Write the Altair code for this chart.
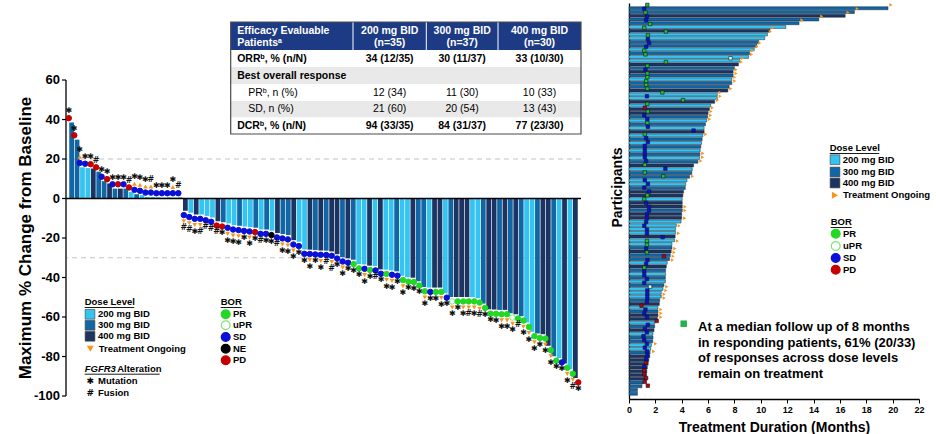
import altair as alt
import numpy as np
import pandas as pd

FONT = "Liberation Sans"
SYM_FONT = "DejaVu Sans"

# ---------------- Waterfall: best % change from baseline per patient ----------------
change = [
    38.5, 29.8, 15.8, 15.4, 15.2, 13.6, 8.8, 7.6, 5.0, 5.0, 5.0, 3.4, 2.2, 1.7, 0.8, 0.8, 0.5, 0.5, 0.5, 0.5, 0.5,
    -6.2, -7.2, -8.1, -8.1, -8.8, -9.6, -11.5, -12.0, -12.6, -13.5,
    -13.8, -14.2, -14.5, -14.8, -15.7, -15.7, -16.3, -17.5, -18.0, -18.5,
    -21.1, -21.9, -25.8, -25.9, -26.1, -26.3, -26.4, -26.8, -28.2, -29.7,
    -30.3, -31.0, -33.2, -33.4, -34.0, -34.2, -35.9, -36.0, -36.4, -36.9,
    -39.1, -39.9, -40.1, -41.9, -44.8, -45.1, -45.1, -45.1, -48.0, -49.9,
    -49.9, -49.9, -49.9, -49.9, -50.5, -53.2, -56.1, -56.2, -56.4, -56.4,
    -58.1, -58.6, -59.6, -62.8, -67.5, -68.4, -68.7, -74.6, -79.9, -80.8,
    -83.5, -86.5, -90.9,
]
dose = [
    300, 300, 200, 200, 400, 300, 300, 400, 300, 400, 300, 200, 300, 200, 200, 200, 300, 200, 300, 200, 300,
    400, 200, 400, 200, 200, 200, 400, 300, 200, 200,
    300, 200, 200, 300, 200, 300, 200, 400, 300, 300,
    400, 200, 200, 400, 300, 400, 300, 400, 400, 300,
    400, 300, 200, 200, 400, 200, 400, 200, 200, 300,
    200, 200, 400, 300, 300, 200, 400,
    400, 200, 300, 400, 400, 400, 200, 200, 300, 400, 400, 300, 400,
    300, 400, 300, 200, 200, 300, 400, 400, 300, 200, 400, 200, 400,
]
bor = [
    "PD", "PD", "SD", "SD", "PD", "PD", "SD", "PD", "SD", "PD", "SD", "PD", "SD", "SD", "SD", "SD", "SD", "SD", "SD", "SD", "SD",
    "SD", "SD", "SD", "SD", "SD", "SD", "PD", "PD", "SD", "SD",
    "SD", "SD", "SD", "PD", "SD", "SD", "NE", "SD", "SD", "SD",
    "SD", "SD", "SD", "SD", "SD", "SD", "SD", "SD", "SD", "SD",
    "SD", "PR", "PR", "SD", "PR", "SD", "SD", "PR", "SD", "SD",
    "PR", "PR", "PR", "PR", "PR", "SD", "PR", "PR", "SD", "uPR",
    "PR", "PR", "PR", "PR", "PR", "PR", "PR", "PR", "PR", "PR",
    "uPR", "PR", "PR", "PR", "PR", "PR", "PR", "PR", "PR", "SD",
    "PR", "PR", "PD",
]
ongoing = [
    0, 0, 1, 0, 0, 0, 0, 0, 0, 0, 0, 0, 1, 1, 1, 1, 0, 0, 0, 1, 0,
    1, 1, 1, 1, 0, 0, 0, 0, 1, 1,
    1, 0, 1, 0, 0, 0, 0, 0, 1, 1,
    1, 0, 0, 1, 0, 1, 0, 1, 0, 1,
    0, 0, 0, 1, 0, 0, 0, 1, 1, 0,
    1, 0, 0, 0, 1, 0, 0, 1, 0, 1,
    0, 1, 1, 1, 1, 0, 0, 0, 1, 1,
    1, 0, 1, 1, 1, 0, 1, 1, 0, 0,
    1, 1, 0,
]
alteration = [
    "M", "M", "M", "M", "M", "F", "M", "M", "M", "M", "M", "F", "M", "M", "M", "F", "M", "M", "M", "M", "F",
    "F", "F", "M", "F", "F", "F", "F", "M", "M", "M",
    "M", "M", "M", "M", "F", "M", "M", "F", "M", "M",
    "M", "M", "M", "M", "M", "M", "F", "F", "M", "M",
    "M", "M", "M", "M", "M", "F", "M", "M", "M", "M",
    "M", "M", "M", "M", "M", "M", "M", "M", "M", "M",
    "M", "M", "F", "M", "F", "M", "M", "M", "M", "M",
    "M", "F", "M", "M", "M", "M", "M", "M", "M", "M",
    "M", "F", "M",
]
y_ticks = [60, 40, 20, 0, -20, -40, -60, -80, -100]
ref_lines = [20, -30]

# ---------------- Swimmer: treatment duration (months) per participant ----------------
sw_duration = [
    19.65, 17.1, 16.4, 14.4, 12.9, 11.9, 10.7, 10.5, 10.3, 9.85, 9.7, 9.5, 9.15, 9.07, 8.4, 8.3, 8.0, 7.9, 7.9, 7.8,
    7.8, 7.6, 7.5, 6.7, 6.7, 6.5, 6.2, 6.1, 6.0, 5.96, 5.9, 5.8, 5.7, 5.7, 5.6, 5.55, 5.5, 5.45, 5.4, 5.38,
    5.36, 5.23, 4.9, 4.8, 4.77, 4.6, 4.4, 4.3, 4.27, 4.14, 4.09, 4.04, 4.04, 4.04, 4.04, 4.0, 4.0, 3.95, 3.59, 3.54,
    3.54, 3.5, 3.46, 3.26, 3.26, 3.2, 3.13, 3.08, 2.9, 2.83, 2.78, 2.78, 2.76, 2.76, 2.65, 2.58, 2.45, 2.45, 2.33, 2.3,
    2.2, 2.2, 2.2, 2.15, 1.95, 1.95, 1.9, 1.82, 1.82, 1.8, 1.7, 1.65, 1.6, 1.57, 1.5, 1.45, 1.39, 1.35, 1.32, 1.3,
    1.06, 0.98, 0.64, 0.64,
]
sw_dose = [
    300, 300, 400, 300, 300, 200, 400, 200, 200, 300, 300, 200, 300, 200, 200, 400, 300, 400, 300, 200,
    300, 300, 400, 200, 200, 400, 200, 400, 400, 300, 200, 300, 200, 400, 200, 300, 200, 300, 200, 300,
    200, 300, 400, 200, 300, 300, 200, 200, 300, 400, 400, 200, 400, 400, 300, 400, 400, 200, 200, 200,
    200, 400, 200, 200, 300, 400, 300, 300, 200, 400, 300, 200, 300, 200, 300, 200, 200, 200, 300, 400,
    200, 300, 400, 400, 200, 300, 400, 200, 300, 300, 200, 200, 300, 400, 400, 400, 400, 400, 400, 400,
    300, 300, 300, 300,
]
sw_ongoing = [
    1, 1, 1, 1, 1, 0, 1, 1, 0, 0, 1, 1, 1, 1, 1, 1, 0, 1, 1, 1,
    1, 0, 1, 1, 1, 1, 0, 1, 1, 1, 1, 0, 0, 0, 1, 0, 0, 0, 0, 1,
    1, 1, 0, 0, 0, 1, 0, 0, 0, 0, 0, 0, 0, 1, 1, 0, 1, 0, 1, 0,
    1, 0, 1, 0, 1, 1, 1, 1, 0, 0, 0, 0, 0, 0, 1, 1, 1, 1, 0, 0,
    1, 1, 1, 0, 0, 0, 0, 0, 0, 1, 0, 1, 0, 0, 0, 0, 0, 0, 0, 0,
    0, 0, 0, 0,
]
sw_bor = [
    "PR", "SD", "PR", "SD", "SD", "PR", "PR", "PR", "PR", "SD", "SD", "SD", "PR", "PR", "uPR", "PR", "PR", "SD", "PR", "PR",
    "PR", "PR", "PR", "PR", "SD", "PR", "PR", "PD", "PR", "SD", "SD", "PR", "SD", "SD", "PR", "SD", "SD", "SD", "SD", "SD",
    "SD", "SD", "PR", "SD", "PR", "PR", "SD", "SD", "SD", "SD", "PR", "PR", "SD", "SD", "SD", "SD", "SD", "SD", "SD", "SD",
    "SD", "SD", "PR", "PR", "SD", "PR", "PD", "SD", "SD", "PR", "SD", "SD", "SD", "SD", "uPR", "SD", "SD", "SD", "SD", "PD",
    "SD", "SD", "SD", "PD", "SD", "SD", "SD", "SD", "SD", "SD", "SD", "SD", "SD", "SD", "PD", "SD", "PD", "PD", "PD", "PD",
    "PD", "", "", "",
]
sw_bor_time = [
    1.39, 1.16, 1.25, 1.36, 1.3, 1.6, 1.16, 2.8, 1.43, 1.43, 1.52, 1.3, 1.16, 1.25, 7.7, 2.8, 1.39, 1.25, 1.39, 1.39,
    1.3, 1.3, 1.39, 2.53, 1.36, 4.1, 1.39, 1.2, 1.43, 1.16, 1.39, 1.39, 1.43, 4.9, 1.2, 1.3, 1.43, 1.2, 1.2, 1.2,
    1.2, 1.3, 1.2, 2.76, 1.2, 2.6, 1.2, 1.43, 1.16, 1.52, 1.39, 1.16, 1.3, 1.52, 1.52, 1.36, 1.36, 1.3, 1.16, 1.36,
    1.36, 2.55, 1.36, 1.36, 1.3, 1.36, 2.65, 1.4, 1.3, 1.16, 1.16, 1.16, 1.36, 1.16, 1.6, 1.39, 1.39, 1.39, 1.36, 0.95,
    1.25, 1.16, 1.36, 2.1, 1.43, 1.2, 1.36, 1.1, 1.16, 1.36, 1.2, 1.36, 1.39, 1.3, 1.3, 1.16, 1.16, 1.16, 1.3, 1.2,
    1.43, 0, 0, 0,
]
x_ticks_sw = list(range(0, 23, 2))

# ---------------- Response table ----------------
table_header = ["Efficacy Evaluable\nPatientsᵃ", "200 mg BID\n(n=35)", "300 mg BID\n(n=37)", "400 mg BID\n(n=30)"]
table_rows = ["ORRᵇ, % (n/N)", "Best overall response", "PRᵇ, n (%)", "SD, n (%)", "DCRᵇ, % (n/N)"]
table_200 = ["34 (12/35)", "", "12 (34)", "21 (60)", "94 (33/35)"]
table_300 = ["30 (11/37)", "", "11 (30)", "20 (54)", "84 (31/37)"]
table_400 = ["33 (10/30)", "", "10 (33)", "13 (43)", "77 (23/30)"]
row_bold = [True, True, False, False, True]
row_indent = [False, False, True, True, False]
row_shade = [False, True, False, True, False]

dose_labels = ["200 mg BID", "300 mg BID", "400 mg BID"]
bor_labels_wf = ["PR", "uPR", "SD", "NE", "PD"]
bor_labels_sw = ["PR", "uPR", "SD", "PD"]
note_lines = [
    "At a median follow up of 8 months",
    "in responding patients, 61% (20/33)",
    "of responses across dose levels",
    "remain on treatment",
]

DOSE_COLOR = {200: "#35C3F1", 300: "#1167A6", 400: "#1B3461"}
BOR_FILL = {"PR": "#22D822", "uPR": "#FFFFFF", "SD": "#0A10D6", "NE": "#000000", "PD": "#C40000"}
BOR_STROKE = {"PR": "#22D822", "uPR": "#7EE37E", "SD": "#0A10D6", "NE": "#000000", "PD": "#C40000"}
SW_FILL = {"PR": "#22C322", "uPR": "#D9FFD9", "SD": "#0A10D6", "PD": "#C40000"}
ORANGE = "#F7941D"
NAVY = "#1D3A85"

# ---------------- layout ----------------
LW, LH = 515, 393          # waterfall plot area
YTOP = 99.0                # y value at the top edge of the waterfall area
RW, RH = 290, 396          # swimmer plot area


def px_scales(w, h):
    sx = alt.Scale(domain=[0, w], range=[0, w], nice=False, zero=False)
    sy = alt.Scale(domain=[0, h], range=[0, h], nice=False, zero=False)
    return sx, sy


def text_layer(df, sx, sy, align="left", weight="bold", size=10, color="black", style="normal", font=FONT, **kw):
    return alt.Chart(df).mark_text(
        align=align, baseline="middle", fontWeight=weight, fontSize=size, color=color,
        fontStyle=style, font=font, **kw
    ).encode(
        x=alt.X("x:Q", scale=sx, axis=None),
        y=alt.Y("y:Q", scale=sy, axis=None),
        text="t:N",
    )


def underline(x0, x1, y, sx, sy):
    return alt.Chart(pd.DataFrame({"x": [x0], "x1": [x1], "y": [y]})).mark_rule(
        color="black", strokeWidth=0.9
    ).encode(x=alt.X("x:Q", scale=sx, axis=None), x2="x1:Q", y=alt.Y("y:Q", scale=sy, axis=None))


# ================= waterfall =================
n_bars = len(change)
wf = pd.DataFrame({
    "idx": range(n_bars), "change": change, "dose": dose, "bor": bor,
    "ongoing": ongoing, "alteration": alteration,
})
wf["sign"] = np.where(wf["change"] > 0, 1, -1)
wf["bar_color"] = wf["dose"].map(DOSE_COLOR)
wf["dot_fill"] = wf["bor"].map(BOR_FILL)
wf["dot_stroke"] = wf["bor"].map(BOR_STROKE)
wf["dot_y"] = wf["change"] + wf["sign"] * 2.2
wf["tri_y"] = wf["dot_y"] + wf["sign"] * 3.1
wf["sym_y"] = np.where(wf["ongoing"] == 1, wf["tri_y"], wf["dot_y"]) + wf["sign"] * 3.4
wf["tri_shape"] = np.where(wf["sign"] > 0, "triangle-up", "triangle-down")
wf["sym"] = wf["alteration"].map({"M": "✱", "F": "#"})

xs = alt.Scale(domain=list(range(n_bars)), paddingInner=0.12, paddingOuter=0.6)
ys = alt.Scale(domain=[-100, YTOP], nice=False, zero=False)
WX = alt.X("idx:O", scale=xs, axis=None)

# value axis: ticks, labels and title drawn on the data scale
tick_df = pd.DataFrame({"v": y_ticks, "t": [str(v) for v in y_ticks]})
y_tick_marks = alt.Chart(tick_df).mark_rule(color="black", strokeWidth=1.2).encode(
    x=alt.value(-4), x2=alt.value(0), y=alt.Y("v:Q", scale=ys, axis=None)
)
y_tick_labels = alt.Chart(tick_df).mark_text(
    align="right", baseline="middle", font=FONT, fontSize=13, fontWeight="bold", color="black"
).encode(x=alt.value(-6), y=alt.Y("v:Q", scale=ys, axis=None), text="t:N")
y_title = alt.Chart(pd.DataFrame({"v": [-20], "t": ["Maximum % Change from Baseline"]})).mark_text(
    angle=270, align="center", baseline="middle", font=FONT, fontSize=17, fontWeight="bold", color="black"
).encode(x=alt.value(-40), y=alt.Y("v:Q", scale=ys, axis=None), text="t:N")

grid = alt.Chart(pd.DataFrame({"g": ref_lines})).mark_rule(
    color="#C4C4C4", strokeDash=[5, 4], strokeWidth=1
).encode(y=alt.Y("g:Q", scale=ys, axis=None))

bars = alt.Chart(wf).mark_bar().encode(
    x=WX, y=alt.Y("change:Q", scale=ys, axis=None),
    color=alt.Color("bar_color:N", scale=None),
)

zero_line = alt.Chart(pd.DataFrame({"z": [0]})).mark_rule(color="black", strokeWidth=1.3).encode(
    y=alt.Y("z:Q", scale=ys, axis=None)
)
axis_line = alt.Chart(pd.DataFrame({"a": [min(y_ticks)], "b": [max(y_ticks)]})).mark_rule(
    color="black", strokeWidth=1.3
).encode(x=alt.value(0), y=alt.Y("a:Q", scale=ys, axis=None), y2="b:Q")

dots = alt.Chart(wf).mark_circle(size=30, opacity=1, strokeWidth=1).encode(
    x=WX, y=alt.Y("dot_y:Q", scale=ys, axis=None),
    fill=alt.Fill("dot_fill:N", scale=None), stroke=alt.Stroke("dot_stroke:N", scale=None),
)
tris = alt.Chart(wf).transform_filter("datum.ongoing == 1").mark_point(
    filled=True, size=22, color=ORANGE, opacity=1
).encode(x=WX, y=alt.Y("tri_y:Q", scale=ys, axis=None), shape=alt.Shape("tri_shape:N", scale=None))
syms = alt.Chart(wf).mark_text(font=SYM_FONT, fontWeight="bold", fontSize=8, baseline="middle", color="#111111").encode(
    x=WX, y=alt.Y("sym_y:Q", scale=ys, axis=None), text="sym:N"
)

# ---- table over the waterfall ----
lsx, lsy = px_scales(LW, LH)
TX = [164.7, 287.0, 360.3, 432.0, 515.0]
TY = [19.0, 47.0, 64.0, 81.0, 98.0, 114.5, 131.0]

cells = pd.DataFrame({
    "x": [TX[0]] + [TX[0]] * len(table_rows),
    "x1": [TX[-1]] + [TX[-1]] * len(table_rows),
    "y": [TY[0]] + TY[1:-1],
    "y1": [TY[1]] + TY[2:],
    "fill": [NAVY] + ["#E9E9E9" if s else "#FFFFFF" for s in row_shade],
})
table_bg = alt.Chart(cells).mark_rect().encode(
    x=alt.X("x:Q", scale=lsx, axis=None), x2="x1:Q",
    y=alt.Y("y:Q", scale=lsy, axis=None), y2="y1:Q",
    fill=alt.Fill("fill:N", scale=None),
)
table_border = alt.Chart(pd.DataFrame({"x": [TX[0]], "x1": [TX[-1]], "y": [TY[0]], "y1": [TY[-1]]})).mark_rect(
    fillOpacity=0, stroke="#4A4A4A", strokeWidth=1.2
).encode(x=alt.X("x:Q", scale=lsx, axis=None), x2="x1:Q", y=alt.Y("y:Q", scale=lsy, axis=None), y2="y1:Q")
head_sep = alt.Chart(pd.DataFrame({"x": TX[1:-1], "y": [TY[0]] * 3, "y1": [TY[1]] * 3})).mark_rule(
    color="#FFFFFF", strokeWidth=1
).encode(x=alt.X("x:Q", scale=lsx, axis=None), y=alt.Y("y:Q", scale=lsy, axis=None), y2="y1:Q")

col_mid = [(TX[i] + TX[i + 1]) / 2 for i in range(len(TX) - 1)]
head_y = TY[0] + 8.5      # first header line; the second follows one line below
head_left = text_layer(pd.DataFrame({"x": [TX[0] + 6.5], "y": [head_y], "t": [table_header[0]]}),
                       lsx, lsy, size=10.5, color="white", lineBreak="\n", lineHeight=12)
head_mid = text_layer(pd.DataFrame({"x": col_mid[1:], "y": [head_y] * 3, "t": table_header[1:]}),
                      lsx, lsy, align="center", size=10.5, color="white", lineBreak="\n", lineHeight=12)

row_y = [(TY[i + 1] + TY[i + 2]) / 2 for i in range(len(table_rows))]
row_df = pd.DataFrame({
    "x": [TX[0] + (17.5 if ind else 6.5) for ind in row_indent],
    "y": row_y, "t": table_rows, "bold": row_bold,
})
val_df = pd.DataFrame({
    "x": [col_mid[1]] * 5 + [col_mid[2]] * 5 + [col_mid[3]] * 5,
    "y": row_y * 3, "t": table_200 + table_300 + table_400, "bold": row_bold * 3,
})
row_bold_txt = text_layer(row_df[row_df["bold"]], lsx, lsy, size=10.5)
row_norm_txt = text_layer(row_df[~row_df["bold"]], lsx, lsy, size=10.5, weight="normal")
val_bold_txt = text_layer(val_df[val_df["bold"] & (val_df["t"] != "")], lsx, lsy, align="center", size=10.5)
val_norm_txt = text_layer(val_df[~val_df["bold"]], lsx, lsy, align="center", size=10.5, weight="normal")

# ---- waterfall legends ----
LG_X, LG_Y = 18.7, 299.0
dose_sq = pd.DataFrame({"x": [24.0] * 3, "y": [LG_Y + 12.3 + 11 * i for i in range(3)],
                        "c": [DOSE_COLOR[d] for d in (200, 300, 400)], "t": dose_labels})
wf_dose_sq = alt.Chart(dose_sq).mark_square(size=95, opacity=1, stroke="#3A3A3A", strokeWidth=0.6).encode(
    x=alt.X("x:Q", scale=lsx, axis=None), y=alt.Y("y:Q", scale=lsy, axis=None), fill=alt.Fill("c:N", scale=None)
)
wf_dose_txt = text_layer(dose_sq.assign(x=32.0), lsx, lsy, size=9.5)
wf_title1 = text_layer(pd.DataFrame({"x": [LG_X], "y": [LG_Y], "t": ["Dose Level"]}), lsx, lsy, size=9.5)
wf_ul1 = underline(LG_X, LG_X + 49.5, LG_Y + 5.5, lsx, lsy)
wf_ong = alt.Chart(pd.DataFrame({"x": [24.3], "y": [345.7]})).mark_point(
    shape="triangle-down", filled=True, size=48, color=ORANGE, opacity=1
).encode(x=alt.X("x:Q", scale=lsx, axis=None), y=alt.Y("y:Q", scale=lsy, axis=None))
wf_ong_txt = text_layer(pd.DataFrame({"x": [32.7], "y": [345.7], "t": ["Treatment Ongoing"]}), lsx, lsy, size=9.5)
wf_fgfr = text_layer(pd.DataFrame({"x": [LG_X], "y": [365.7], "t": ["FGFR3"]}), lsx, lsy, size=9.5, style="italic")
wf_alt = text_layer(pd.DataFrame({"x": [LG_X + 32.5], "y": [365.7], "t": ["Alteration"]}), lsx, lsy, size=9.5)
wf_ul2 = underline(LG_X, LG_X + 75, 371.2, lsx, lsy)
wf_sym_key = text_layer(pd.DataFrame({"x": [24.3, 24.3], "y": [378.0, 389.7], "t": ["✱", "#"]}),
                        lsx, lsy, align="center", size=9, font=SYM_FONT)
wf_sym_txt = text_layer(pd.DataFrame({"x": [32.0, 32.0], "y": [378.0, 389.7], "t": ["Mutation", "Fusion"]}),
                        lsx, lsy, size=9.5)

BX = 154.7
bor_key = pd.DataFrame({"x": [159.7] * 5, "y": [311.3, 322.3, 334.0, 345.7, 357.3],
                        "f": [BOR_FILL[b] for b in bor_labels_wf], "s": [BOR_STROKE[b] for b in bor_labels_wf],
                        "t": bor_labels_wf})
wf_bor_dot = alt.Chart(bor_key).mark_circle(size=78, opacity=1, strokeWidth=1.2).encode(
    x=alt.X("x:Q", scale=lsx, axis=None), y=alt.Y("y:Q", scale=lsy, axis=None),
    fill=alt.Fill("f:N", scale=None), stroke=alt.Stroke("s:N", scale=None),
)
wf_bor_txt = text_layer(bor_key.assign(x=167.0), lsx, lsy, size=9.5)
wf_bor_title = text_layer(pd.DataFrame({"x": [BX], "y": [LG_Y], "t": ["BOR"]}), lsx, lsy, size=9.5)
wf_ul3 = underline(BX, BX + 21, LG_Y + 5.5, lsx, lsy)

waterfall = alt.layer(
    y_title, y_tick_marks, y_tick_labels,
    grid, bars, zero_line, axis_line, dots, tris, syms,
    table_bg, head_sep, table_border, head_left, head_mid,
    row_bold_txt, row_norm_txt, val_bold_txt, val_norm_txt,
    wf_dose_sq, wf_dose_txt, wf_title1, wf_ul1, wf_ong, wf_ong_txt, wf_fgfr, wf_alt, wf_ul2,
    wf_sym_key, wf_sym_txt, wf_bor_dot, wf_bor_txt, wf_bor_title, wf_ul3,
).resolve_scale(x="independent", y="independent").properties(width=LW, height=LH)

# ================= swimmer =================
n_rows = len(sw_duration)
sw = pd.DataFrame({
    "row": range(n_rows), "dur": sw_duration, "dose": sw_dose, "ongoing": sw_ongoing,
    "bor": sw_bor, "bor_t": sw_bor_time,
})
sw["bar_color"] = sw["dose"].map(DOSE_COLOR)
sw["tri_x"] = sw["dur"] + 0.22
sw["bor_fill"] = sw["bor"].map(SW_FILL).fillna("#FFFFFF")

sxs = alt.Scale(domain=[0, 22], nice=False, zero=False)
sys_ = alt.Scale(domain=list(range(n_rows)), paddingInner=0.2, paddingOuter=1.0)
SY = alt.Y("row:O", scale=sys_, axis=None)

x_axis = alt.Axis(
    values=x_ticks_sw, grid=False, domainColor="black", domainWidth=1.3,
    tickColor="black", tickSize=4, tickWidth=1, labelFont=FONT, labelFontSize=9, labelFontWeight="bold",
    labelColor="black", labelFlush=False, labelPadding=2,
    title="Treatment Duration (Months)", titleFont=FONT, titleFontSize=14, titleFontWeight="bold",
    titleColor="black", titlePadding=6,
)
y_axis_sw = alt.Axis(
    labels=False, ticks=False, domain=True, domainColor="black", domainWidth=1.3, grid=False,
    title="Participants", titleFont=FONT, titleFontSize=14, titleFontWeight="bold", titleColor="black",
    titlePadding=5, titleY=184,
)

sw_bars = alt.Chart(sw).mark_bar(stroke="#1E2838", strokeWidth=0.5).encode(
    x=alt.X("dur:Q", scale=sxs, axis=x_axis),
    y=alt.Y("row:O", scale=sys_, axis=y_axis_sw),
    color=alt.Color("bar_color:N", scale=None),
)
sw_tri = alt.Chart(sw).transform_filter("datum.ongoing == 1").mark_point(
    shape="triangle-right", filled=True, size=13, color=ORANGE, opacity=1
).encode(x=alt.X("tri_x:Q", scale=sxs, axis=None), y=SY)
sw_resp = alt.Chart(sw).transform_filter("datum.bor != ''").mark_square(
    size=12, opacity=1, stroke="#0A1838", strokeWidth=0.6
).encode(x=alt.X("bor_t:Q", scale=sxs, axis=None), y=SY, fill=alt.Fill("bor_fill:N", scale=None))

# ---- swimmer legends and note ----
rsx, rsy = px_scales(RW, RH)
RLX = 200.7
sw_dose_key = pd.DataFrame({"x": [206.0] * 3, "y": [156.7, 169.0, 180.0],
                            "c": [DOSE_COLOR[d] for d in (200, 300, 400)], "t": dose_labels})
sw_dose_sq = alt.Chart(sw_dose_key).mark_square(size=95, opacity=1, stroke="#3A3A3A", strokeWidth=0.6).encode(
    x=alt.X("x:Q", scale=rsx, axis=None), y=alt.Y("y:Q", scale=rsy, axis=None), fill=alt.Fill("c:N", scale=None)
)
sw_dose_txt = text_layer(sw_dose_key.assign(x=213.7), rsx, rsy, size=9.5)
sw_title1 = text_layer(pd.DataFrame({"x": [RLX], "y": [145.0], "t": ["Dose Level"]}), rsx, rsy, size=9.5)
sw_ul1 = underline(RLX, RLX + 49.5, 150.5, rsx, rsy)
sw_ong = alt.Chart(pd.DataFrame({"x": [206.0], "y": [192.3]})).mark_point(
    shape="triangle-right", filled=True, size=50, color=ORANGE, opacity=1
).encode(x=alt.X("x:Q", scale=rsx, axis=None), y=alt.Y("y:Q", scale=rsy, axis=None))
sw_ong_txt = text_layer(pd.DataFrame({"x": [214.0], "y": [192.3], "t": ["Treatment Ongoing"]}), rsx, rsy, size=9.5)

sw_bor_key = pd.DataFrame({"x": [206.7] * 4, "y": [230.7, 243.0, 255.0, 266.7],
                           "f": [BOR_FILL[b] for b in bor_labels_sw], "s": [BOR_STROKE[b] for b in bor_labels_sw],
                           "t": bor_labels_sw})
sw_bor_dot = alt.Chart(sw_bor_key).mark_circle(size=78, opacity=1, strokeWidth=1.2).encode(
    x=alt.X("x:Q", scale=rsx, axis=None), y=alt.Y("y:Q", scale=rsy, axis=None),
    fill=alt.Fill("f:N", scale=None), stroke=alt.Stroke("s:N", scale=None),
)
sw_bor_txt = text_layer(sw_bor_key.assign(x=214.0), rsx, rsy, size=9.5)
sw_bor_title = text_layer(pd.DataFrame({"x": [201.7], "y": [219.0], "t": ["BOR"]}), rsx, rsy, size=9.5)
sw_ul2 = underline(201.7, 222.7, 224.5, rsx, rsy)

note_bullet = alt.Chart(pd.DataFrame({"x": [54.7], "y": [320.7]})).mark_square(
    size=42, color="#22B14C", opacity=1
).encode(x=alt.X("x:Q", scale=rsx, axis=None), y=alt.Y("y:Q", scale=rsy, axis=None))
note_txt = text_layer(pd.DataFrame({"x": [69.0] * 4, "y": [324.0 + 15.6 * i for i in range(4)], "t": note_lines}),
                      rsx, rsy, size=13)

swimmer = alt.layer(
    sw_bars, sw_resp, sw_tri,
    sw_dose_sq, sw_dose_txt, sw_title1, sw_ul1, sw_ong, sw_ong_txt,
    sw_bor_dot, sw_bor_txt, sw_bor_title, sw_ul2, note_bullet, note_txt,
).resolve_scale(x="independent", y="independent").properties(width=RW, height=RH)

chart = alt.hconcat(waterfall, swimmer, spacing=27).properties(
    padding={"left": 16, "top": 1, "right": 0, "bottom": 0}, background="white"
).configure_view(stroke=None)

chart.save("out.html", embed_options={"renderer": "svg", "actions": False})
